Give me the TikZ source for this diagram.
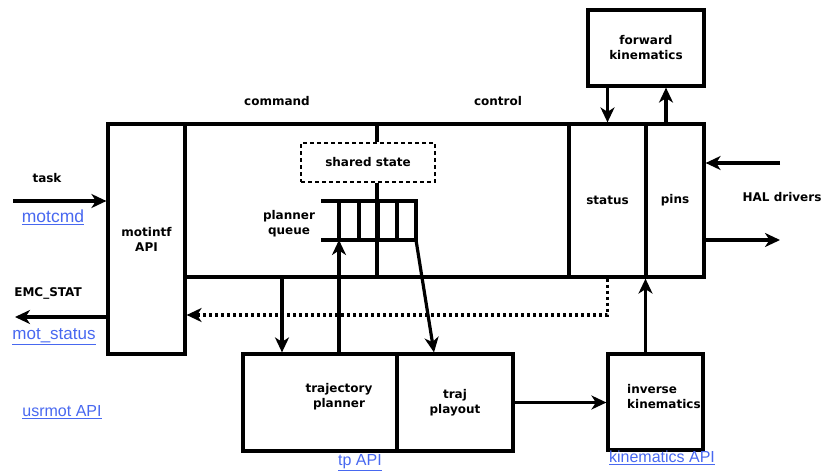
\documentclass[tikz,border=0pt]{standalone}
\usepackage{fontspec}
\usetikzlibrary{arrows.meta}
\newfontfamily\blkfont{DejaVu Sans}
\newfontfamily\linkfont{Liberation Sans}
\definecolor{linkblue}{RGB}{72,104,240}
\tikzset{
  wire/.style={line width=3.2pt},
  arr/.style={wire, -{Stealth[length=15pt,width=14pt,inset=4.5pt]}},
  blk/.style={draw, wire, inner sep=0pt, align=center, font=\blkfont\bfseries\fontsize{12}{15}\selectfont},
  lbl/.style={inner sep=0pt, align=center, font=\blkfont\bfseries\fontsize{12}{15}\selectfont},
  lnk/.style={inner sep=0pt, text=linkblue, font=\linkfont\fontsize{16}{18}\selectfont},
}
\begin{document}
\begin{tikzpicture}[x=1pt,y=-1pt]
\useasboundingbox (0,0) rectangle (822,471);
% blocks
\node[blk, minimum width=77pt, minimum height=230pt] (api) at (146.5,239) {motintf\\API};
\node[blk, minimum width=384pt, minimum height=153pt] (main) at (377,200.5) {};
\node[blk, minimum width=77pt, minimum height=153pt] (status) at (607.5,200.5) {status};
\node[blk, minimum width=58pt, minimum height=153pt] (pins) at (675,200.5) {pins};
\node[blk, minimum width=116pt, minimum height=76pt] (fk) at (646,48) {forward\\kinematics};
\node[blk, line width=2pt, dash pattern=on 4pt off 3pt, minimum width=134pt, minimum height=39pt] (shared) at (368,162.5) {shared state};
\node[blk, minimum width=154pt, minimum height=97pt] (trajp) at (320,402.5) {};
\node[lbl] (trajptext) at (339,396.5) {trajectory\\planner};
\node[blk, minimum width=116pt, minimum height=97pt] (play) at (455,402.5) {traj\\playout};
\node[blk, minimum width=95pt, minimum height=96pt] (ik) at (655.5,402) {};
\node[lbl, anchor=west, align=left] (iktext) at (627,396.5) {inverse\\kinematics};
% planner queue
\foreach \x in {339,359,378,397,416} {
  \draw[wire] (\x,201) -- (\x,240);
}
\draw[wire] (321,201) -- (417.5,201);
\draw[wire] (321,240) -- (417.5,240);
\coordinate (qin) at (339,240);
\coordinate (qout) at (416,240);
\node[lbl] (queue) at (289,224) {planner\\queue};
% labels
\node[lbl] (command) at (277,101) {command};
\node[lbl] (control) at (498,101) {control};
\node[lbl] (hal) at (782,197) {HAL drivers};
\node[lbl] (task) at (47,178) {task};
\node[lbl] (emc) at (48,293) {EMC\_STAT};
\node[lnk, font=\linkfont\fontsize{17.5}{19}\selectfont] (motcmd) at (53,217) {\underline{motcmd}};
\node[lnk, font=\linkfont\fontsize{17}{19}\selectfont] (motstatus) at (54,337) {\underline{mot\_status}};
\node[lnk] (usrmot) at (62,412) {\underline{usrmot API}};
\node[lnk] (tpapi) at (360,463) {\underline{tp API}};
\node[lnk] (kinapi) at (662,458) {\underline{kinematics API}};
% connectors
\coordinate (taskin) at (13,201);
\coordinate (emcout) at (15,317);
\coordinate (halin) at (780,163);
\coordinate (halout) at (780,240);
\draw[arr] (taskin) -- (taskin -| api.west);
\draw[arr] (emcout -| api.west) -- (emcout);
\draw[arr] (halin) -- (halin -| pins.east);
\draw[arr] (halout -| pins.east) -- (halout);
\draw[arr] (fk.south -| status) -- (status.north);
\draw[arr] ([xshift=-9pt]pins.north) -- ([xshift=-9pt]pins.north |- fk.south);
\draw[arr] ([xshift=-10pt]ik.north) -- ([xshift=-10pt]ik.north |- pins.south);
\draw[wire] (main.north) -- (shared.north -| main.north);
\draw[wire] (shared.south -| main.north) -- (main.south);
\draw[arr] (main.south -| 282,0) -- (trajp.north -| 282,0);
\draw[arr] (trajp.north -| qin) -- (qin);
\draw[arr] (qout) -- (play.north -| 434,0);
\draw[arr] (play.east) -- (ik.west |- play.east);
\draw[arr, dash pattern=on 3pt off 3pt] (status.south) -- (status.south |- 0,315) -- (api.east |- 0,315);
\end{tikzpicture}
\end{document}
